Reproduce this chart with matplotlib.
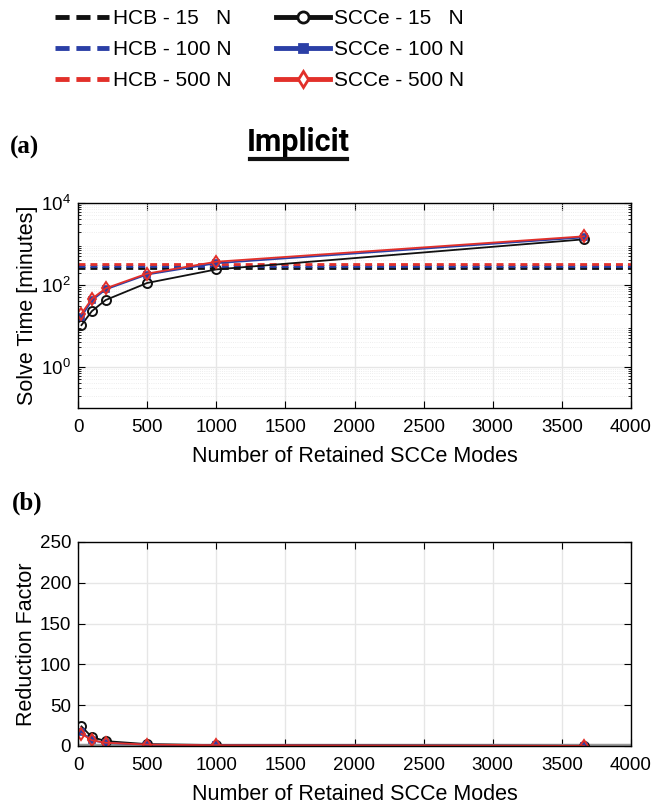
import numpy as np
import matplotlib
matplotlib.use('Agg')
import matplotlib.pyplot as plt
from matplotlib.lines import Line2D

plt.rcParams['font.family'] = ['Liberation Sans', 'DejaVu Sans']
plt.rcParams['mathtext.fontset'] = 'custom'
plt.rcParams['mathtext.rm'] = 'Liberation Sans'
plt.rcParams['mathtext.it'] = 'Liberation Sans'

# retained SCCe modes
modes = [25, 100, 200, 500, 1000, 3660]

# solve time [minutes]
scce_15 = [10.5, 23, 43, 112, 240, 1300]
scce_100 = [17, 42, 78, 180, 340, 1450]
scce_500 = [20, 46, 83, 190, 370, 1540]
hcb_15 = 260
hcb_100 = 290
hcb_500 = 325

# reduction factor
rf_15 = [24, 11, 6, 2.3, 1.1, 0.2]
rf_100 = [17, 7, 3.7, 1.6, 0.85, 0.2]
rf_500 = [15, 7, 4, 1.7, 0.9, 0.2]

labels_hcb = ['HCB - 15   N', 'HCB - 100 N', 'HCB - 500 N']
labels_scce = ['SCCe - 15   N', 'SCCe - 100 N', 'SCCe - 500 N']
colors = ['#111111', '#2b3fa6', '#e2302a']
markers = ['o', 's', 'd']

W, H = 653, 807
fig = plt.figure(figsize=(W / 100, H / 100), dpi=100)

def px_axes(l, t, r, b):
    return fig.add_axes([l / W, 1 - b / H, (r - l) / W, (b - t) / H])

ax1 = px_axes(78, 203, 631, 408)
ax2 = px_axes(78, 542, 631, 746)

def style(ax):
    ax.set_xlim(0, 4000)
    ax.set_xticks(np.arange(0, 4001, 500))
    ax.tick_params(which='both', direction='in', top=True, right=True)
    ax.tick_params(labelsize=13.5, length=5)
    ax.tick_params(axis='x', pad=8)
    ax.tick_params(axis='y', pad=5)
    ax.grid(True, which='major', color='#e6e6e6', lw=1)
    ax.set_axisbelow(True)
    for s in ax.spines.values():
        s.set_linewidth(1.0)
    ax.set_xlabel('Number of Retained SCCe Modes', fontsize=15.5, labelpad=7)

def mstyle(i):
    if i == 1:
        return dict(marker='s', ms=5, mfc=colors[i], mec=colors[i], mew=1.2)
    return dict(marker=markers[i], ms=6.5, mfc='none', mec=colors[i], mew=1.4)

# (a) solve time
hcb = [hcb_15, hcb_100, hcb_500]
scce = [scce_15, scce_100, scce_500]
for i in range(3):
    ax1.axhline(hcb[i], color=colors[i], lw=2.0, ls=(0, (2.5, 1.8)))
for i in range(3):
    ax1.plot(modes, scce[i], color=colors[i], lw=1.3, **mstyle(i))
ax1.set_yscale('log')
ax1.set_ylim(0.1, 1e4)
ax1.set_yticks([1e0, 1e2, 1e4])
ax1.grid(True, which='minor', axis='y', color='#e8e8e8', lw=0.6, ls=':')
style(ax1)
ax1.set_ylabel('Solve Time [minutes]', fontsize=15.5, labelpad=2)

# (b) reduction factor
rf = [rf_15, rf_100, rf_500]
ax2.axhline(1, color='#999999', lw=2.5)
for i in range(3):
    ax2.plot(modes, rf[i], color=colors[i], lw=1.3, **mstyle(i))
ax2.set_ylim(0, 250)
ax2.set_yticks(np.arange(0, 251, 50))
style(ax2)
ax2.set_ylabel('Reduction Factor', fontsize=15.5, labelpad=2)

# legend
handles = []
for i in range(3):
    handles.append(Line2D([], [], color=colors[i], lw=3.5, ls=(0, (2.9, 1.4))))
for i in range(3):
    handles.append(Line2D([], [], color=colors[i], lw=3.5, marker=markers[i],
                          ms=8 if i != 1 else 6, mfc='white' if i != 1 else colors[i],
                          mec=colors[i], mew=2))
fig.legend(handles, labels_hcb + labels_scce, ncol=2, frameon=False,
           fontsize=15, loc='upper left', bbox_to_anchor=(55 / W, 1 - 9 / H),
           handlelength=2.6, handletextpad=0.2, columnspacing=2.1,
           labelspacing=0.58, borderaxespad=0, borderpad=0)

# titles and panel labels
fig.text(298 / W, 1 - 142 / H, 'Implicit', ha='center', va='center', fontsize=22,
         fontweight='bold', family=['Roboto', 'Liberation Sans'])
fig.add_artist(Line2D([250 / W, 347 / W], [1 - 159 / H, 1 - 159 / H],
                      color='#111111', lw=3, transform=fig.transFigure))
fig.text(10 / W, 1 - 147 / H, '(a)', ha='left', va='center', fontsize=18,
         fontweight='bold', family='Liberation Serif')
fig.text(12 / W, 1 - 503 / H, '(b)', ha='left', va='center', fontsize=18,
         fontweight='bold', family='Liberation Serif')

fig.savefig('out.png', dpi=100)
